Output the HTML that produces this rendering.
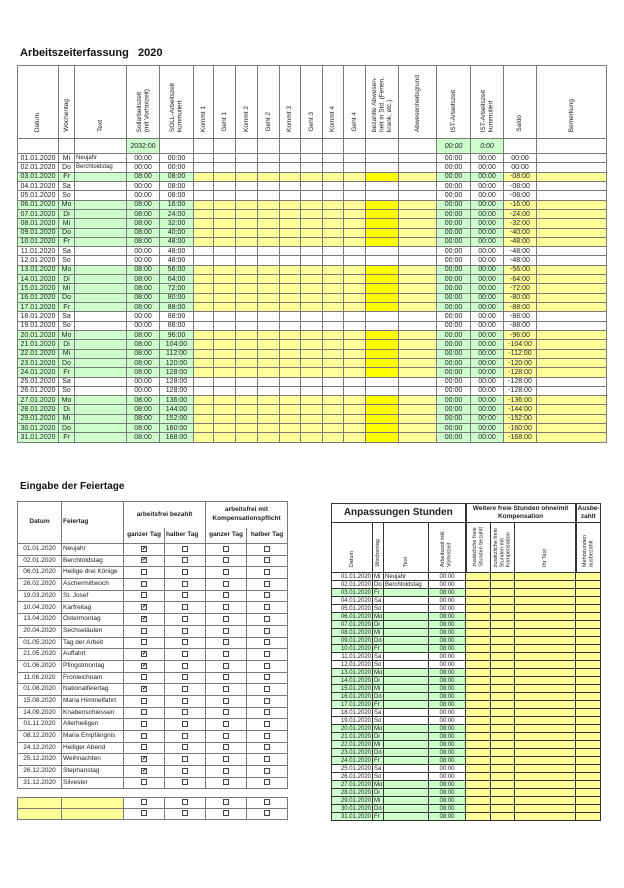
<!DOCTYPE html>
<html><head><meta charset="utf-8"><style>
*{margin:0;padding:0;box-sizing:border-box}
body{width:624px;height:888px;background:#fff;position:relative;font-family:"Liberation Sans",Arial,sans-serif;color:#222;overflow:hidden}
.t{position:absolute;font-weight:bold;color:#111}
table{position:absolute;border-collapse:collapse;table-layout:fixed}
td{border:1px solid #7a7a7a;font-size:6.5px;line-height:1;padding:0 1px;white-space:nowrap;overflow:hidden;text-align:center}
#a td{font-size:7px}
#a td.v{vertical-align:bottom;padding-bottom:4px}
.v span{display:inline-block;writing-mode:vertical-rl;transform:rotate(180deg);text-align:left;font-size:6.5px;line-height:1.15;white-space:normal}
#a tr.d td{height:9.32px}
#a tr.d td:nth-child(3){text-align:left;font-size:6px}
#a tr.w td{background:#ffff99}
#a tr.w td:nth-child(-n+5),#a tr.w td:nth-child(16),#a tr.w td:nth-child(17){background:#ccffcc}
#a tr.w td:nth-child(14){background:#ffff00}
#b td{font-size:6.5px;height:11.7px}
#b td:nth-child(2){text-align:left}
.cb{display:inline-block;width:6px;height:6px;border:1px solid #444;font-size:6px;line-height:4px;text-align:center;vertical-align:middle}
#c td{border-color:#333;font-size:6px;height:8px}
#c tr.d td:nth-child(3){text-align:left}
#c tr.d td:nth-child(1){text-align:right}
#c tr.d td:nth-child(2){text-align:left}
#c tr.d td:nth-child(n+5){background:#ffff99}
#c tr.w td:nth-child(-n+4){background:#ccffcc}
#c .v span{font-size:5.5px}
#c td.v{vertical-align:bottom;padding-bottom:3px}
</style></head><body>
<div class="t" style="left:20px;top:47px;font-size:11px">Arbeitszeiterfassung&nbsp;&nbsp; 2020</div>
<table id="a" style="left:17px;top:65px;width:589px">
<colgroup><col style="width:41px"><col style="width:16px"><col style="width:52px"><col style="width:33px"><col style="width:34px"><col style="width:20px"><col style="width:22px"><col style="width:22px"><col style="width:22px"><col style="width:21px"><col style="width:22px"><col style="width:21px"><col style="width:22px"><col style="width:33px"><col style="width:38px"><col style="width:34px"><col style="width:33px"><col style="width:33px"><col style="width:70px"></colgroup>
<tr style="height:73px"><td class="v"><span>Datum</span></td><td class="v"><span>Wochentag</span></td><td class="v"><span>Text</span></td><td class="v"><span>Sollarbeitszeit<br>(mit Vorholzeit)</span></td><td class="v"><span>SOLL-Arbeitszeit<br>kummuliert</span></td><td class="v"><span>Kommt 1</span></td><td class="v"><span>Geht 1</span></td><td class="v"><span>Kommt 2</span></td><td class="v"><span>Geht 2</span></td><td class="v"><span>Kommt 3</span></td><td class="v"><span>Geht 3</span></td><td class="v"><span>Kommt 4</span></td><td class="v"><span>Geht 4</span></td><td class="v"><span>bezahlte Abwesen-<br>heit in Std. (Ferien,<br>krank, etc.)</span></td><td class="v"><span>Abwesenheitsgrund</span></td><td class="v"><span>IST-Arbeitszeit</span></td><td class="v"><span>IST-Arbeitszeit<br>kummuliert</span></td><td class="v"><span>Saldo</span></td><td class="v"><span>Bemerkung</span></td></tr>
<tr style="height:15px"><td></td><td></td><td></td><td style="background:#ccffcc">2032:00</td><td></td><td></td><td></td><td></td><td></td><td></td><td></td><td></td><td></td><td></td><td></td><td style="background:#ccffcc;font-style:italic">00:00</td><td style="background:#ccffcc;font-style:italic">0:00</td><td></td><td></td></tr>
<tr class="d"><td>01.01.2020</td><td>Mi</td><td>Neujahr</td><td>00:00</td><td>00:00</td><td></td><td></td><td></td><td></td><td></td><td></td><td></td><td></td><td></td><td></td><td>00:00</td><td>00:00</td><td>00:00</td><td></td></tr>
<tr class="d"><td>02.01.2020</td><td>Do</td><td>Berchtoldstag</td><td>00:00</td><td>00:00</td><td></td><td></td><td></td><td></td><td></td><td></td><td></td><td></td><td></td><td></td><td>00:00</td><td>00:00</td><td>00:00</td><td></td></tr>
<tr class="d w"><td>03.01.2020</td><td>Fr</td><td></td><td>08:00</td><td>08:00</td><td></td><td></td><td></td><td></td><td></td><td></td><td></td><td></td><td></td><td></td><td>00:00</td><td>00:00</td><td>-08:00</td><td></td></tr>
<tr class="d"><td>04.01.2020</td><td>Sa</td><td></td><td>00:00</td><td>08:00</td><td></td><td></td><td></td><td></td><td></td><td></td><td></td><td></td><td></td><td></td><td>00:00</td><td>00:00</td><td>-08:00</td><td></td></tr>
<tr class="d"><td>05.01.2020</td><td>So</td><td></td><td>00:00</td><td>08:00</td><td></td><td></td><td></td><td></td><td></td><td></td><td></td><td></td><td></td><td></td><td>00:00</td><td>00:00</td><td>-08:00</td><td></td></tr>
<tr class="d w"><td>06.01.2020</td><td>Mo</td><td></td><td>08:00</td><td>16:00</td><td></td><td></td><td></td><td></td><td></td><td></td><td></td><td></td><td></td><td></td><td>00:00</td><td>00:00</td><td>-16:00</td><td></td></tr>
<tr class="d w"><td>07.01.2020</td><td>Di</td><td></td><td>08:00</td><td>24:00</td><td></td><td></td><td></td><td></td><td></td><td></td><td></td><td></td><td></td><td></td><td>00:00</td><td>00:00</td><td>-24:00</td><td></td></tr>
<tr class="d w"><td>08.01.2020</td><td>Mi</td><td></td><td>08:00</td><td>32:00</td><td></td><td></td><td></td><td></td><td></td><td></td><td></td><td></td><td></td><td></td><td>00:00</td><td>00:00</td><td>-32:00</td><td></td></tr>
<tr class="d w"><td>09.01.2020</td><td>Do</td><td></td><td>08:00</td><td>40:00</td><td></td><td></td><td></td><td></td><td></td><td></td><td></td><td></td><td></td><td></td><td>00:00</td><td>00:00</td><td>-40:00</td><td></td></tr>
<tr class="d w"><td>10.01.2020</td><td>Fr</td><td></td><td>08:00</td><td>48:00</td><td></td><td></td><td></td><td></td><td></td><td></td><td></td><td></td><td></td><td></td><td>00:00</td><td>00:00</td><td>-48:00</td><td></td></tr>
<tr class="d"><td>11.01.2020</td><td>Sa</td><td></td><td>00:00</td><td>48:00</td><td></td><td></td><td></td><td></td><td></td><td></td><td></td><td></td><td></td><td></td><td>00:00</td><td>00:00</td><td>-48:00</td><td></td></tr>
<tr class="d"><td>12.01.2020</td><td>So</td><td></td><td>00:00</td><td>48:00</td><td></td><td></td><td></td><td></td><td></td><td></td><td></td><td></td><td></td><td></td><td>00:00</td><td>00:00</td><td>-48:00</td><td></td></tr>
<tr class="d w"><td>13.01.2020</td><td>Mo</td><td></td><td>08:00</td><td>56:00</td><td></td><td></td><td></td><td></td><td></td><td></td><td></td><td></td><td></td><td></td><td>00:00</td><td>00:00</td><td>-56:00</td><td></td></tr>
<tr class="d w"><td>14.01.2020</td><td>Di</td><td></td><td>08:00</td><td>64:00</td><td></td><td></td><td></td><td></td><td></td><td></td><td></td><td></td><td></td><td></td><td>00:00</td><td>00:00</td><td>-64:00</td><td></td></tr>
<tr class="d w"><td>15.01.2020</td><td>Mi</td><td></td><td>08:00</td><td>72:00</td><td></td><td></td><td></td><td></td><td></td><td></td><td></td><td></td><td></td><td></td><td>00:00</td><td>00:00</td><td>-72:00</td><td></td></tr>
<tr class="d w"><td>16.01.2020</td><td>Do</td><td></td><td>08:00</td><td>80:00</td><td></td><td></td><td></td><td></td><td></td><td></td><td></td><td></td><td></td><td></td><td>00:00</td><td>00:00</td><td>-80:00</td><td></td></tr>
<tr class="d w"><td>17.01.2020</td><td>Fr</td><td></td><td>08:00</td><td>88:00</td><td></td><td></td><td></td><td></td><td></td><td></td><td></td><td></td><td></td><td></td><td>00:00</td><td>00:00</td><td>-88:00</td><td></td></tr>
<tr class="d"><td>18.01.2020</td><td>Sa</td><td></td><td>00:00</td><td>88:00</td><td></td><td></td><td></td><td></td><td></td><td></td><td></td><td></td><td></td><td></td><td>00:00</td><td>00:00</td><td>-88:00</td><td></td></tr>
<tr class="d"><td>19.01.2020</td><td>So</td><td></td><td>00:00</td><td>88:00</td><td></td><td></td><td></td><td></td><td></td><td></td><td></td><td></td><td></td><td></td><td>00:00</td><td>00:00</td><td>-88:00</td><td></td></tr>
<tr class="d w"><td>20.01.2020</td><td>Mo</td><td></td><td>08:00</td><td>96:00</td><td></td><td></td><td></td><td></td><td></td><td></td><td></td><td></td><td></td><td></td><td>00:00</td><td>00:00</td><td>-96:00</td><td></td></tr>
<tr class="d w"><td>21.01.2020</td><td>Di</td><td></td><td>08:00</td><td>104:00</td><td></td><td></td><td></td><td></td><td></td><td></td><td></td><td></td><td></td><td></td><td>00:00</td><td>00:00</td><td>-104:00</td><td></td></tr>
<tr class="d w"><td>22.01.2020</td><td>Mi</td><td></td><td>08:00</td><td>112:00</td><td></td><td></td><td></td><td></td><td></td><td></td><td></td><td></td><td></td><td></td><td>00:00</td><td>00:00</td><td>-112:00</td><td></td></tr>
<tr class="d w"><td>23.01.2020</td><td>Do</td><td></td><td>08:00</td><td>120:00</td><td></td><td></td><td></td><td></td><td></td><td></td><td></td><td></td><td></td><td></td><td>00:00</td><td>00:00</td><td>-120:00</td><td></td></tr>
<tr class="d w"><td>24.01.2020</td><td>Fr</td><td></td><td>08:00</td><td>128:00</td><td></td><td></td><td></td><td></td><td></td><td></td><td></td><td></td><td></td><td></td><td>00:00</td><td>00:00</td><td>-128:00</td><td></td></tr>
<tr class="d"><td>25.01.2020</td><td>Sa</td><td></td><td>00:00</td><td>128:00</td><td></td><td></td><td></td><td></td><td></td><td></td><td></td><td></td><td></td><td></td><td>00:00</td><td>00:00</td><td>-128:00</td><td></td></tr>
<tr class="d"><td>26.01.2020</td><td>So</td><td></td><td>00:00</td><td>128:00</td><td></td><td></td><td></td><td></td><td></td><td></td><td></td><td></td><td></td><td></td><td>00:00</td><td>00:00</td><td>-128:00</td><td></td></tr>
<tr class="d w"><td>27.01.2020</td><td>Mo</td><td></td><td>08:00</td><td>136:00</td><td></td><td></td><td></td><td></td><td></td><td></td><td></td><td></td><td></td><td></td><td>00:00</td><td>00:00</td><td>-136:00</td><td></td></tr>
<tr class="d w"><td>28.01.2020</td><td>Di</td><td></td><td>08:00</td><td>144:00</td><td></td><td></td><td></td><td></td><td></td><td></td><td></td><td></td><td></td><td></td><td>00:00</td><td>00:00</td><td>-144:00</td><td></td></tr>
<tr class="d w"><td>29.01.2020</td><td>Mi</td><td></td><td>08:00</td><td>152:00</td><td></td><td></td><td></td><td></td><td></td><td></td><td></td><td></td><td></td><td></td><td>00:00</td><td>00:00</td><td>-152:00</td><td></td></tr>
<tr class="d w"><td>30.01.2020</td><td>Do</td><td></td><td>08:00</td><td>160:00</td><td></td><td></td><td></td><td></td><td></td><td></td><td></td><td></td><td></td><td></td><td>00:00</td><td>00:00</td><td>-160:00</td><td></td></tr>
<tr class="d w"><td>31.01.2020</td><td>Fr</td><td></td><td>08:00</td><td>168:00</td><td></td><td></td><td></td><td></td><td></td><td></td><td></td><td></td><td></td><td></td><td>00:00</td><td>00:00</td><td>-168:00</td><td></td></tr>
</table>

<div class="t" style="left:20px;top:481px;font-size:10px">Eingabe der Feiertage</div>
<table id="b" style="left:17px;top:501px;width:270px">
<colgroup><col style="width:44px"><col style="width:62px"><col style="width:41px"><col style="width:41px"><col style="width:41px"><col style="width:41px"></colgroup>
<tr style="height:26px"><td rowspan="2" style="font-weight:bold;text-align:center">Datum</td><td rowspan="2" style="font-weight:bold;text-align:left;vertical-align:middle">Feiertag</td><td colspan="2" style="font-weight:bold;border-bottom:none">arbeitsfrei bezahlt</td><td colspan="2" style="font-weight:bold;border-bottom:none;line-height:1.3">arbeitsfrei mit<br>Kompensationspflicht</td></tr>
<tr style="height:16px"><td style="font-weight:bold;border-top:none">ganzer Tag</td><td style="font-weight:bold;border-top:none">halber Tag</td><td style="font-weight:bold;border-top:none">ganzer Tag</td><td style="font-weight:bold;border-top:none">halber Tag</td></tr>
<tr><td>01.01.2020</td><td>Neujahr</td><td><span class="cb">✔</span></td><td><span class="cb"></span></td><td><span class="cb"></span></td><td><span class="cb"></span></td></tr>
<tr><td>02.01.2020</td><td>Berchtoldstag</td><td><span class="cb">✔</span></td><td><span class="cb"></span></td><td><span class="cb"></span></td><td><span class="cb"></span></td></tr>
<tr><td>06.01.2020</td><td>Heilige drei Könige</td><td><span class="cb"></span></td><td><span class="cb"></span></td><td><span class="cb"></span></td><td><span class="cb"></span></td></tr>
<tr><td>26.02.2020</td><td>Aschermittwoch</td><td><span class="cb"></span></td><td><span class="cb"></span></td><td><span class="cb"></span></td><td><span class="cb"></span></td></tr>
<tr><td>19.03.2020</td><td>St. Josef</td><td><span class="cb"></span></td><td><span class="cb"></span></td><td><span class="cb"></span></td><td><span class="cb"></span></td></tr>
<tr><td>10.04.2020</td><td>Karfreitag</td><td><span class="cb">✔</span></td><td><span class="cb"></span></td><td><span class="cb"></span></td><td><span class="cb"></span></td></tr>
<tr><td>13.04.2020</td><td>Ostermontag</td><td><span class="cb">✔</span></td><td><span class="cb"></span></td><td><span class="cb"></span></td><td><span class="cb"></span></td></tr>
<tr><td>20.04.2020</td><td>Sechseläuten</td><td><span class="cb"></span></td><td><span class="cb"></span></td><td><span class="cb"></span></td><td><span class="cb"></span></td></tr>
<tr><td>01.05.2020</td><td>Tag der Arbeit</td><td><span class="cb"></span></td><td><span class="cb"></span></td><td><span class="cb"></span></td><td><span class="cb"></span></td></tr>
<tr><td>21.05.2020</td><td>Auffahrt</td><td><span class="cb">✔</span></td><td><span class="cb"></span></td><td><span class="cb"></span></td><td><span class="cb"></span></td></tr>
<tr><td>01.06.2020</td><td>Pfingstmontag</td><td><span class="cb">✔</span></td><td><span class="cb"></span></td><td><span class="cb"></span></td><td><span class="cb"></span></td></tr>
<tr><td>11.06.2020</td><td>Fronleichnam</td><td><span class="cb"></span></td><td><span class="cb"></span></td><td><span class="cb"></span></td><td><span class="cb"></span></td></tr>
<tr><td>01.08.2020</td><td>Nationalfeiertag</td><td><span class="cb">✔</span></td><td><span class="cb"></span></td><td><span class="cb"></span></td><td><span class="cb"></span></td></tr>
<tr><td>15.08.2020</td><td>Maria Himmelfahrt</td><td><span class="cb"></span></td><td><span class="cb"></span></td><td><span class="cb"></span></td><td><span class="cb"></span></td></tr>
<tr><td>14.09.2020</td><td>Knabenschiessen</td><td><span class="cb"></span></td><td><span class="cb"></span></td><td><span class="cb"></span></td><td><span class="cb"></span></td></tr>
<tr><td>01.11.2020</td><td>Allerheiligen</td><td><span class="cb"></span></td><td><span class="cb"></span></td><td><span class="cb"></span></td><td><span class="cb"></span></td></tr>
<tr><td>08.12.2020</td><td>Maria Empfängnis</td><td><span class="cb"></span></td><td><span class="cb"></span></td><td><span class="cb"></span></td><td><span class="cb"></span></td></tr>
<tr><td>24.12.2020</td><td>Heiliger Abend</td><td><span class="cb"></span></td><td><span class="cb"></span></td><td><span class="cb"></span></td><td><span class="cb"></span></td></tr>
<tr><td>25.12.2020</td><td>Weihnachten</td><td><span class="cb">✔</span></td><td><span class="cb"></span></td><td><span class="cb"></span></td><td><span class="cb"></span></td></tr>
<tr><td>26.12.2020</td><td>Stephanstag</td><td><span class="cb">✔</span></td><td><span class="cb"></span></td><td><span class="cb"></span></td><td><span class="cb"></span></td></tr>
<tr><td>31.12.2020</td><td>Silvester</td><td><span class="cb"></span></td><td><span class="cb"></span></td><td><span class="cb"></span></td><td><span class="cb"></span></td></tr>
</table>
<table id="b2" style="left:17px;top:797px;width:270px">
<colgroup><col style="width:44px"><col style="width:62px"><col style="width:41px"><col style="width:41px"><col style="width:41px"><col style="width:41px"></colgroup>
<tr style="height:11px"><td style="background:#ffff99"></td><td style="background:#ffff99"></td><td><span class="cb"></span></td><td><span class="cb"></span></td><td><span class="cb"></span></td><td><span class="cb"></span></td></tr>
<tr style="height:11px"><td style="background:#ffff99"></td><td style="background:#ffff99"></td><td><span class="cb"></span></td><td><span class="cb"></span></td><td><span class="cb"></span></td><td><span class="cb"></span></td></tr>
</table>

<table id="c" style="left:331px;top:503px;width:269px">
<colgroup><col style="width:41px"><col style="width:11px"><col style="width:45px"><col style="width:37px"><col style="width:25px"><col style="width:24px"><col style="width:61px"><col style="width:25px"></colgroup>
<tr style="height:19px"><td colspan="4" style="font-weight:bold;font-size:10px;border-width:1px 2px 1px 1px">Anpassungen Stunden</td><td colspan="3" style="font-weight:bold;font-size:6.5px;line-height:1.2;white-space:normal">Weitere freie Stunden ohne/mit Kompensation</td><td style="font-weight:bold;font-size:6.5px;line-height:1.2;white-space:normal;border-left-width:2px">Ausbe-<br>zahlt</td></tr>
<tr style="height:50px"><td class="v"><span>Datum</span></td><td class="v"><span>Wochentag</span></td><td class="v"><span>Text</span></td><td class="v" style="border-right-width:2px"><span>Arbeitszeit inkl.<br>Vorholzeit</span></td><td class="v"><span>zusätzliche freie<br>Stunden bezahlt</span></td><td class="v"><span>zusätzliche freie<br>Stunden mit<br>Kompensation</span></td><td class="v"><span>Ihr Text</span></td><td class="v" style="border-left-width:2px"><span>Mehrstunden<br>ausbezahlt</span></td></tr>
<tr class="d"><td>01.01.2020</td><td>Mi</td><td>Neujahr</td><td>00:00</td><td></td><td></td><td></td><td></td></tr>
<tr class="d"><td>02.01.2020</td><td>Do</td><td>Berchtoldstag</td><td>00:00</td><td></td><td></td><td></td><td></td></tr>
<tr class="d w"><td>03.01.2020</td><td>Fr</td><td></td><td>08:00</td><td></td><td></td><td></td><td></td></tr>
<tr class="d"><td>04.01.2020</td><td>Sa</td><td></td><td>00:00</td><td></td><td></td><td></td><td></td></tr>
<tr class="d"><td>05.01.2020</td><td>So</td><td></td><td>00:00</td><td></td><td></td><td></td><td></td></tr>
<tr class="d w"><td>06.01.2020</td><td>Mo</td><td></td><td>08:00</td><td></td><td></td><td></td><td></td></tr>
<tr class="d w"><td>07.01.2020</td><td>Di</td><td></td><td>08:00</td><td></td><td></td><td></td><td></td></tr>
<tr class="d w"><td>08.01.2020</td><td>Mi</td><td></td><td>08:00</td><td></td><td></td><td></td><td></td></tr>
<tr class="d w"><td>09.01.2020</td><td>Do</td><td></td><td>08:00</td><td></td><td></td><td></td><td></td></tr>
<tr class="d w"><td>10.01.2020</td><td>Fr</td><td></td><td>08:00</td><td></td><td></td><td></td><td></td></tr>
<tr class="d"><td>11.01.2020</td><td>Sa</td><td></td><td>00:00</td><td></td><td></td><td></td><td></td></tr>
<tr class="d"><td>12.01.2020</td><td>So</td><td></td><td>00:00</td><td></td><td></td><td></td><td></td></tr>
<tr class="d w"><td>13.01.2020</td><td>Mo</td><td></td><td>08:00</td><td></td><td></td><td></td><td></td></tr>
<tr class="d w"><td>14.01.2020</td><td>Di</td><td></td><td>08:00</td><td></td><td></td><td></td><td></td></tr>
<tr class="d w"><td>15.01.2020</td><td>Mi</td><td></td><td>08:00</td><td></td><td></td><td></td><td></td></tr>
<tr class="d w"><td>16.01.2020</td><td>Do</td><td></td><td>08:00</td><td></td><td></td><td></td><td></td></tr>
<tr class="d w"><td>17.01.2020</td><td>Fr</td><td></td><td>08:00</td><td></td><td></td><td></td><td></td></tr>
<tr class="d"><td>18.01.2020</td><td>Sa</td><td></td><td>00:00</td><td></td><td></td><td></td><td></td></tr>
<tr class="d"><td>19.01.2020</td><td>So</td><td></td><td>00:00</td><td></td><td></td><td></td><td></td></tr>
<tr class="d w"><td>20.01.2020</td><td>Mo</td><td></td><td>08:00</td><td></td><td></td><td></td><td></td></tr>
<tr class="d w"><td>21.01.2020</td><td>Di</td><td></td><td>08:00</td><td></td><td></td><td></td><td></td></tr>
<tr class="d w"><td>22.01.2020</td><td>Mi</td><td></td><td>08:00</td><td></td><td></td><td></td><td></td></tr>
<tr class="d w"><td>23.01.2020</td><td>Do</td><td></td><td>08:00</td><td></td><td></td><td></td><td></td></tr>
<tr class="d w"><td>24.01.2020</td><td>Fr</td><td></td><td>08:00</td><td></td><td></td><td></td><td></td></tr>
<tr class="d"><td>25.01.2020</td><td>Sa</td><td></td><td>00:00</td><td></td><td></td><td></td><td></td></tr>
<tr class="d"><td>26.01.2020</td><td>So</td><td></td><td>00:00</td><td></td><td></td><td></td><td></td></tr>
<tr class="d w"><td>27.01.2020</td><td>Mo</td><td></td><td>08:00</td><td></td><td></td><td></td><td></td></tr>
<tr class="d w"><td>28.01.2020</td><td>Di</td><td></td><td>08:00</td><td></td><td></td><td></td><td></td></tr>
<tr class="d w"><td>29.01.2020</td><td>Mi</td><td></td><td>08:00</td><td></td><td></td><td></td><td></td></tr>
<tr class="d w"><td>30.01.2020</td><td>Do</td><td></td><td>08:00</td><td></td><td></td><td></td><td></td></tr>
<tr class="d w"><td>31.01.2020</td><td>Fr</td><td></td><td>08:00</td><td></td><td></td><td></td><td></td></tr>
</table>
</body></html>
